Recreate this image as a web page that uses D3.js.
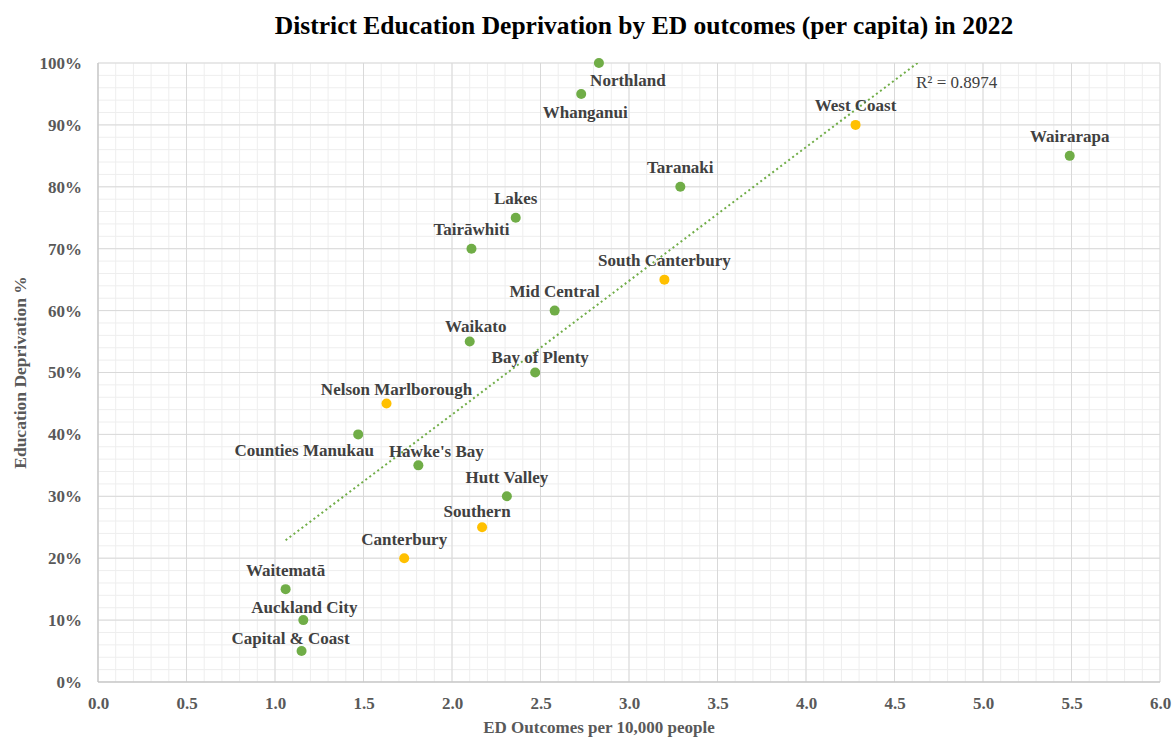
<!DOCTYPE html>
<html>
<head>
<meta charset="utf-8">
<script src="https://cdn.jsdelivr.net/npm/d3@7"></script>
<style>
  body { margin: 0; background: #fff; }
  text { font-family: "Liberation Serif", "DejaVu Serif", serif; }
</style>
</head>
<body>
<div id="chart"></div>
<script>
(function () {
  'use strict';

  // Districts, values
  const districts = ['Northland', 'Whanganui', 'West Coast', 'Wairarapa', 'Taranaki', 'Lakes',
    'Tairāwhiti', 'South Canterbury', 'Mid Central', 'Waikato', 'Bay of Plenty',
    'Nelson Marlborough', 'Counties Manukau', "Hawke's Bay", 'Hutt Valley', 'Southern',
    'Canterbury', 'Waitematā', 'Auckland City', 'Capital & Coast'];
  const edOutcomes = [2.83, 2.73, 4.28, 5.49, 3.29, 2.36, 2.11, 3.20, 2.58, 2.10, 2.47,
    1.63, 1.47, 1.81, 2.31, 2.17, 1.73, 1.06, 1.16, 1.15];
  const deprivation = [100, 95, 90, 85, 80, 75, 70, 65, 60, 55, 50, 45, 40, 35, 30, 25, 20, 15, 10, 5];
  const southIsland = [false, false, true, false, false, false, false, true, false, false, false,
    true, false, false, false, true, true, false, false, false];

  const xTicks = [0, 0.5, 1, 1.5, 2, 2.5, 3, 3.5, 4, 4.5, 5, 5.5, 6];
  const yTicks = [0, 10, 20, 30, 40, 50, 60, 70, 80, 90, 100];
  const trendSlope = 21.6, trendIntercept = 0;
  const rSquared = '0.8974';

  // label placement relative to its point (dx, dy of text centre)
  const labelOffset = {
    'Northland': [29, 17], 'Whanganui': [4, 19], 'Waikato': [6, -15], 'Bay of Plenty': [5, -15],
    'Nelson Marlborough': [10, -14], 'Counties Manukau': [-54, 16], "Hawke's Bay": [18, -14],
    'Southern': [-5, -16], 'Auckland City': [1, -13], 'Capital & Coast': [-11, -13]
  };

  const width = 1173, height = 740;
  const margin = { top: 63, right: 13, bottom: 58, left: 98 };

  const svg = d3.select('#chart').append('svg')
    .attr('width', width).attr('height', height);

  const x = d3.scaleLinear().domain([0, 6]).range([margin.left, width - margin.right]);
  const y = d3.scaleLinear().domain([0, 100]).range([height - margin.bottom, margin.top]);

  // minor grid
  const g = svg.append('g');
  g.selectAll('line.mx').data(d3.range(0, 61).map(d => d / 10)).join('line')
    .attr('x1', d => x(d)).attr('x2', d => x(d))
    .attr('y1', y(0)).attr('y2', y(100))
    .attr('stroke', '#eeeeee').attr('stroke-width', 1);
  g.selectAll('line.my').data(d3.range(0, 101, 2)).join('line')
    .attr('x1', x(0)).attr('x2', x(6))
    .attr('y1', d => y(d)).attr('y2', d => y(d))
    .attr('stroke', '#eeeeee').attr('stroke-width', 1);

  // major grid
  g.selectAll('line.gx').data(xTicks).join('line')
    .attr('x1', d => x(d)).attr('x2', d => x(d))
    .attr('y1', y(0)).attr('y2', y(100))
    .attr('stroke', '#d9d9d9').attr('stroke-width', 1);
  g.selectAll('line.gy').data(yTicks).join('line')
    .attr('x1', x(0)).attr('x2', x(6))
    .attr('y1', d => y(d)).attr('y2', d => y(d))
    .attr('stroke', '#d9d9d9').attr('stroke-width', 1);

  // axis lines
  svg.append('line').attr('x1', x(0)).attr('x2', x(0)).attr('y1', y(0)).attr('y2', y(100))
    .attr('stroke', '#bfbfbf');
  svg.append('line').attr('x1', x(0)).attr('x2', x(6)).attr('y1', y(0)).attr('y2', y(0))
    .attr('stroke', '#bfbfbf');

  // tick labels
  const xAxis = svg.append('g').attr('transform', `translate(0,${y(0)})`)
    .call(d3.axisBottom(x).tickValues(xTicks).tickFormat(d3.format('.1f')).tickSize(0).tickPadding(15));
  const yAxis = svg.append('g').attr('transform', `translate(${x(0)},0)`)
    .call(d3.axisLeft(y).tickValues(yTicks).tickFormat(d => d + '%').tickSize(0).tickPadding(16));
  [xAxis, yAxis].forEach(a => {
    a.select('.domain').remove();
    a.selectAll('text')
      .attr('fill', '#595959')
      .style('font-family', '"Liberation Serif", serif')
      .style('font-size', '17px')
      .style('font-weight', 'bold');
  });

  // trendline, clipped to plot area
  svg.append('clipPath').attr('id', 'plot-clip').append('rect')
    .attr('x', x(0)).attr('y', y(100)).attr('width', x(6) - x(0)).attr('height', y(0) - y(100));
  const xMin = d3.min(edOutcomes), xMax = d3.max(edOutcomes);
  svg.append('line')
    .attr('clip-path', 'url(#plot-clip)')
    .attr('x1', x(xMin)).attr('y1', y(trendIntercept + trendSlope * xMin))
    .attr('x2', x(xMax)).attr('y2', y(trendIntercept + trendSlope * xMax))
    .attr('stroke', '#70ad47').attr('stroke-width', 2)
    .attr('stroke-dasharray', '2,3');

  svg.append('text')
    .attr('x', 916).attr('y', 88)
    .attr('fill', '#404040')
    .style('font-size', '17px')
    .text('R² = ' + rSquared);

  const points = districts.map((name, i) => ({
    name, x: edOutcomes[i], y: deprivation[i], south: southIsland[i]
  }));

  svg.append('g').selectAll('circle').data(points).join('circle')
    .attr('cx', d => x(d.x)).attr('cy', d => y(d.y))
    .attr('r', 5)
    .attr('fill', d => d.south ? '#ffc000' : '#70ad47');

  svg.append('g').selectAll('text').data(points).join('text')
    .attr('x', d => x(d.x) + (labelOffset[d.name] || [0, -19])[0])
    .attr('y', d => y(d.y) + (labelOffset[d.name] || [0, -19])[1])
    .attr('text-anchor', 'middle')
    .attr('dominant-baseline', 'central')
    .attr('fill', '#404040')
    .style('font-size', '17px')
    .style('font-weight', 'bold')
    .text(d => d.name);

  // titles
  svg.append('text')
    .attr('x', 644).attr('y', 34)
    .attr('text-anchor', 'middle')
    .attr('fill', '#000')
    .style('font-size', '25.5px')
    .style('font-weight', 'bold')
    .text('District Education Deprivation by ED outcomes (per capita) in 2022');

  svg.append('text')
    .attr('x', 599).attr('y', 733)
    .attr('text-anchor', 'middle')
    .attr('fill', '#595959')
    .style('font-size', '17px')
    .style('font-weight', 'bold')
    .text('ED Outcomes per 10,000 people');

  svg.append('text')
    .attr('transform', `translate(26,${(y(0) + y(100)) / 2}) rotate(-90)`)
    .attr('text-anchor', 'middle')
    .attr('fill', '#595959')
    .style('font-size', '17.5px')
    .style('font-weight', 'bold')
    .text('Education Deprivation %');
})();
</script>
</body>
</html>
